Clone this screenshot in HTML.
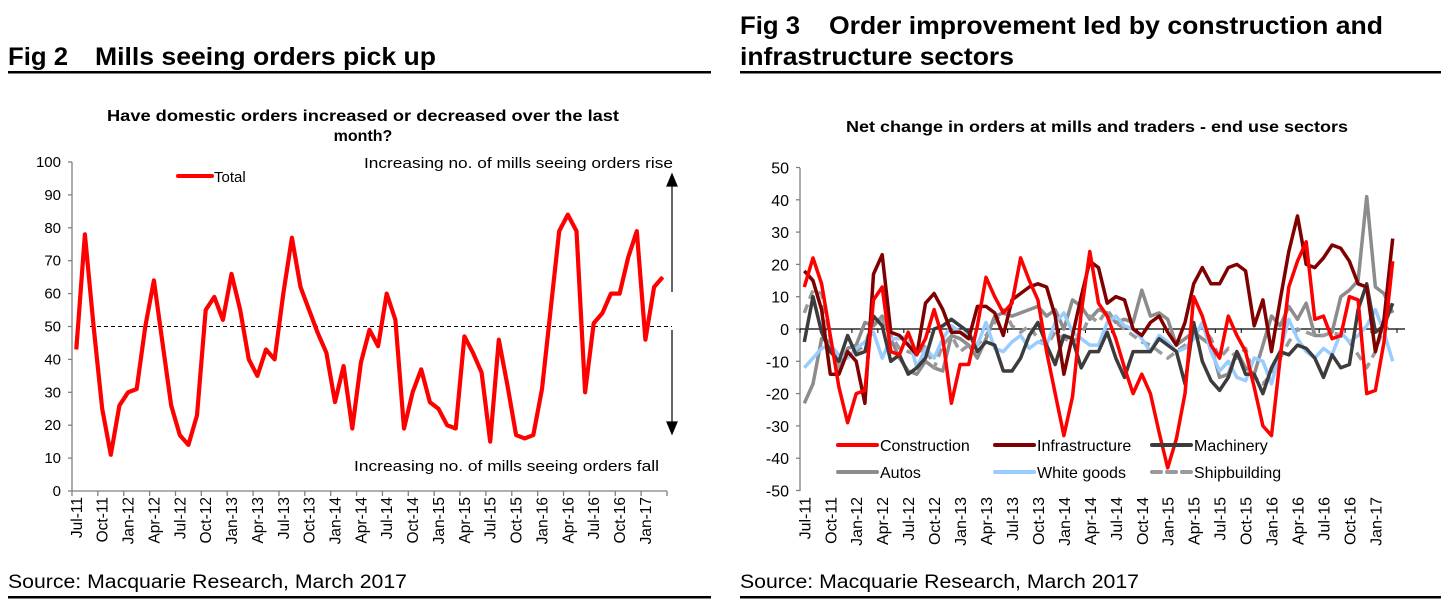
<!DOCTYPE html>
<html><head><meta charset="utf-8">
<style>
html,body{margin:0;padding:0;background:#fff;}
body{width:1449px;height:611px;overflow:hidden;font-family:"Liberation Sans",Arial,sans-serif;}
svg text{font-family:"Liberation Sans",Arial,sans-serif;}
</style></head>
<body>
<svg id="root" width="1449" height="611" viewBox="0 0 1449 611" xmlns="http://www.w3.org/2000/svg">
  <text x="8" y="65" font-size="25" font-weight="bold" textLength="60" lengthAdjust="spacingAndGlyphs">Fig 2</text>
  <text x="95" y="65" font-size="25" font-weight="bold" textLength="341" lengthAdjust="spacingAndGlyphs">Mills seeing orders pick up</text>
  <rect x="8" y="71" width="703" height="2.5" fill="#000"/>
  <text x="740" y="34" font-size="25" font-weight="bold" textLength="60" lengthAdjust="spacingAndGlyphs">Fig 3</text>
  <text x="829" y="34" font-size="25" font-weight="bold" textLength="554" lengthAdjust="spacingAndGlyphs">Order improvement led by construction and</text>
  <text x="740" y="65" font-size="25" font-weight="bold" textLength="274" lengthAdjust="spacingAndGlyphs">infrastructure sectors</text>
  <rect x="740" y="71" width="701" height="2.5" fill="#000"/>

  <text x="363" y="121" font-size="16" font-weight="bold" text-anchor="middle" textLength="512" lengthAdjust="spacingAndGlyphs">Have domestic orders increased or decreased over the last</text>
  <text x="363" y="141" font-size="16" font-weight="bold" text-anchor="middle">month?</text>
  <text x="1097" y="132" font-size="16" font-weight="bold" text-anchor="middle" textLength="502" lengthAdjust="spacingAndGlyphs">Net change in orders at mills and traders - end use sectors</text>

  <text x="8" y="588" font-size="19" textLength="399" lengthAdjust="spacingAndGlyphs">Source: Macquarie Research, March 2017</text>
  <rect x="8" y="596" width="703" height="2.5" fill="#000"/>
  <text x="740" y="588" font-size="19" textLength="399" lengthAdjust="spacingAndGlyphs">Source: Macquarie Research, March 2017</text>
  <rect x="740" y="596" width="701" height="2.5" fill="#000"/>

  <g id="left"></g>
  <g id="right"></g>
</svg>
<script>
// ---- Fig 2 data ----
const monthLabels = ["Jul-11","Oct-11","Jan-12","Apr-12","Jul-12","Oct-12","Jan-13","Apr-13","Jul-13","Oct-13","Jan-14","Apr-14","Jul-14","Oct-14","Jan-15","Apr-15","Jul-15","Oct-15","Jan-16","Apr-16","Jul-16","Oct-16","Jan-17"];
const leftTicks = [0,10,20,30,40,50,60,70,80,90,100];
const totalValues = [43,78,50,25,11,26,30,31,50,64,45,26,17,14,23,55,59,52,66,55,40,35,43,40,60,77,62,55,48,42,27,38,19,39,49,44,60,52,19,30,37,27,25,20,19,47,42,36,15,46,32,17,16,17,31,55,79,84,79,30,51,54,60,60,71,79,46,62,65];
// ---- Fig 3 data ----
const rightTicks = [-50,-40,-30,-20,-10,0,10,20,30,40,50];
const seriesNames = ["Construction","Infrastructure","Machinery","Autos","White goods","Shipbuilding"];
const construction = [13,22,14,-2,-18,-29,-20,-19,9,13,-7,-8,-1,-8,-3,6,-3,-23,-11,-11,1,16,10,5,8,22,15,9,-7,-20,-33,-21,5,24,8,4,-3,-12,-20,-14,-20,-32,-43,-34,-20,10,4,-5,-9,4,-2,-7,-18,-30,-33,-9,13,21,27,3,4,-3,-2,10,9,-20,-19,-4,21];
const infrastructure = [18,15,6,-14,-14,-7,-10,-23,17,23,-1,-2,-5,-8,8,11,6,-1,-1,-3,7,7,5,-2,9,11,13,14,13,4,-14,-2,10,21,19,8,10,9,0,-2,2,4,-1,-5,2,14,19,14,14,19,20,18,1,9,-7,9,24,35,20,19,22,26,25,21,14,13,-7,3,28];
const machinery = [-4,10,-1,-7,-10,-2,-8,-7,4,1,-10,-8,-14,-12,-9,0,1,3,1,-1,-7,-4,-5,-13,-13,-9,-2,2,-5,-11,-2,-3,-12,-7,-7,-1,-9,-15,-7,-7,-7,-3,-5,-7,-17,2,-10,-16,-19,-15,-7,-14,-14,-20,-12,-7,-8,-5,-6,-9,-15,-8,-12,-11,6,14,-1,1,8];
const autos = [-23,-17,-3,-4,-13,-6,-5,2,1,4,-3,-9,-13,-14,-10,-12,-13,-2,-3,-5,-9,-3,4,5,4,5,6,7,4,6,0,9,7,3,6,5,2,3,2,12,4,5,3,-5,-3,-1,-3,-5,-15,-14,-7,-12,-14,-5,4,1,7,3,8,-2,-2,-1,10,12,15,41,13,11,5];
const whiteGoods = [-12,-9,-6,-5,-8,-9,-6,-4,-1,-9,-3,-3,-2,-12,-6,-9,-3,1,-1,-2,-5,2,-6,-7,-4,-2,-6,-4,-5,2,5,-1,-3,-5,-5,2,4,1,0,-3,-7,-2,-4,-7,-6,-3,2,-7,-13,-10,-15,-16,-9,-10,-17,-7,3,-3,-7,-9,-6,-8,-1,-4,-2,1,6,-1,-10];
const shipbuilding = [5,12,11,-3,-12,-7,-7,-5,3,3,-2,-6,-7,-8,-5,-12,-5,-2,-7,-5,-5,-2,2,6,1,-1,1,-3,-5,-1,-3,-4,-2,4,2,6,2,0,-2,-4,-5,-7,-9,-7,-5,-2,1,-3,-9,-6,-9,-6,-15,-17,-14,-9,-4,0,-1,-2,-2,-1,-2,-4,-8,-12,-7,1,-1];

const NS="http://www.w3.org/2000/svg";
function mk(parent,tag,attrs,text){const e=document.createElementNS(NS,tag);for(const k in attrs)e.setAttribute(k,attrs[k]);if(text!==undefined)e.textContent=text;parent.appendChild(e);return e;}

// ---------- Fig 2 ----------
(function(){
  const g=document.getElementById('left');
  const x0=72,x1=667,n=totalValues.length,step=(x1-x0)/n;
  const yv=v=>491-(v/100)*329;
  const xi=i=>x0+step*(i+0.5);
  let e=mk(g,'line',{x1:x0,y1:162,x2:x0,y2:491,stroke:'#808080','stroke-width':1.3});
  
  
  e=mk(g,'line',{x1:x0,y1:491,x2:x1,y2:491,stroke:'#808080','stroke-width':1.3});
  
  
  leftTicks.forEach(t=>{
    mk(g,'line',{x1:x0-4,y1:yv(t),x2:x0,y2:yv(t),stroke:'#808080','stroke-width':1.3});
    const tx=mk(g,'text',{x:x0-11,y:yv(t)+5,'font-size':15,'text-anchor':'end'},String(t));
    
    
  });
  for(let k=0;k<=n;k+=3){mk(g,'line',{x1:x0+step*k,y1:491,x2:x0+step*k,y2:496,stroke:'#808080','stroke-width':1.3});}
  monthLabels.forEach((l,j)=>{
    const x=xi(j*3)+5.5;
    const tx=mk(g,'text',{x:x,y:497,'font-size':15.5,'text-anchor':'end',transform:`rotate(-90 ${x} 497)`},l);
    
    
  });
  e=mk(g,'line',{x1:90,y1:yv(50),x2:672,y2:yv(50),stroke:'#000','stroke-width':1,'stroke-dasharray':'4,3'});
  
  
  e=mk(g,'path',{d:'M672,292 L672,184 M667,186 L672,174 L677,186 Z M672,330 L672,424 M667,422 L672,434 L677,422 Z',stroke:'#000','stroke-width':1.2,fill:'#000'});
  
  
  e=mk(g,'text',{x:673,y:168,'font-size':15,'text-anchor':'end',textLength:309,lengthAdjust:'spacingAndGlyphs'},'Increasing no. of mills seeing orders rise');
  
  
  e=mk(g,'text',{x:354,y:471,'font-size':15,textLength:305,lengthAdjust:'spacingAndGlyphs'},'Increasing no. of mills seeing orders fall');
  
  
  const pts=totalValues.map((v,i)=>xi(i).toFixed(1)+','+yv(v).toFixed(1)).join(' ');
  e=mk(g,'polyline',{points:pts,fill:'none',stroke:'#ff0000','stroke-width':4.2,'stroke-linejoin':'round'});
  
  
  e=mk(g,'line',{x1:178,y1:176,x2:212,y2:176,stroke:'#ff0000','stroke-width':4,'stroke-linecap':'round'});
  
  
  e=mk(g,'text',{x:214,y:182,'font-size':15},'Total');
  
  
})();

// ---------- Fig 3 ----------
(function(){
  const g=document.getElementById('right');
  const x0=800,x1=1397,n=construction.length,step=(x1-x0)/n;
  const yv=v=>329-v*3.23;
  const xi=i=>x0+step*(i+0.5);
  let e=mk(g,'line',{x1:x0,y1:168,x2:x0,y2:491,stroke:'#808080','stroke-width':1.3});
  
  
  rightTicks.forEach(t=>{
    mk(g,'line',{x1:x0-4,y1:yv(t),x2:x0,y2:yv(t),stroke:'#808080','stroke-width':1.3});
    const tx=mk(g,'text',{x:x0-11,y:yv(t)+6,'font-size':16,'text-anchor':'end'},String(t));
    
    
  });
  e=mk(g,'line',{x1:x0,y1:yv(0),x2:x1+8,y2:yv(0),stroke:'#000','stroke-width':1.3});
  
  
  for(let k=0;k<=n;k+=3){mk(g,'line',{x1:x0+step*k,y1:yv(0),x2:x0+step*k,y2:yv(0)+4,stroke:'#000','stroke-width':1});}
  monthLabels.forEach((l,j)=>{
    const x=xi(j*3)+6;
    const tx=mk(g,'text',{x:x,y:497,'font-size':16,'text-anchor':'end',transform:`rotate(-90 ${x} 497)`},l);
    
    
  });
  const series=[
    {d:autos,c:'#8c8c8c',dash:null,name:'autos-line'},
    {d:shipbuilding,c:'#9a9a9a',dash:'9,6',name:'shipbuilding-line'},
    {d:whiteGoods,c:'#99ccff',dash:null,name:'white-goods-line'},
    {d:machinery,c:'#3c3c3c',dash:null,name:'machinery-line'},
    {d:infrastructure,c:'#800000',dash:null,name:'infrastructure-line'},
    {d:construction,c:'#ff0000',dash:null,name:'construction-line'}
  ];
  series.forEach(s=>{
    const pts=s.d.map((v,i)=>xi(i).toFixed(1)+','+yv(v).toFixed(1)).join(' ');
    const a={points:pts,fill:'none',stroke:s.c,'stroke-width':3.5,'stroke-linejoin':'round'};
    if(s.dash)a['stroke-dasharray']=s.dash;
    const p=mk(g,'polyline',a);
    
    
  });
  const leg=[
    {x:838,y:445,c:'#ff0000',dash:null,i:0},
    {x:995,y:445,c:'#800000',dash:null,i:1},
    {x:1152,y:445,c:'#3c3c3c',dash:null,i:2},
    {x:838,y:472,c:'#8c8c8c',dash:null,i:3},
    {x:995,y:472,c:'#99ccff',dash:null,i:4},
    {x:1152,y:472,c:'#9a9a9a',dash:'9,6',i:5}
  ];
  leg.forEach(L=>{
    const a={x1:L.x,y1:L.y,x2:L.x+39,y2:L.y,stroke:L.c,'stroke-width':4,'stroke-linecap':'round'};
    if(L.dash)a['stroke-dasharray']=L.dash;
    const sw=mk(g,'line',a);
    
    
    const t=mk(g,'text',{x:L.x+42,y:L.y+6,'font-size':16},seriesNames[L.i]);
    
    
  });
})();
</script>
</body></html>
